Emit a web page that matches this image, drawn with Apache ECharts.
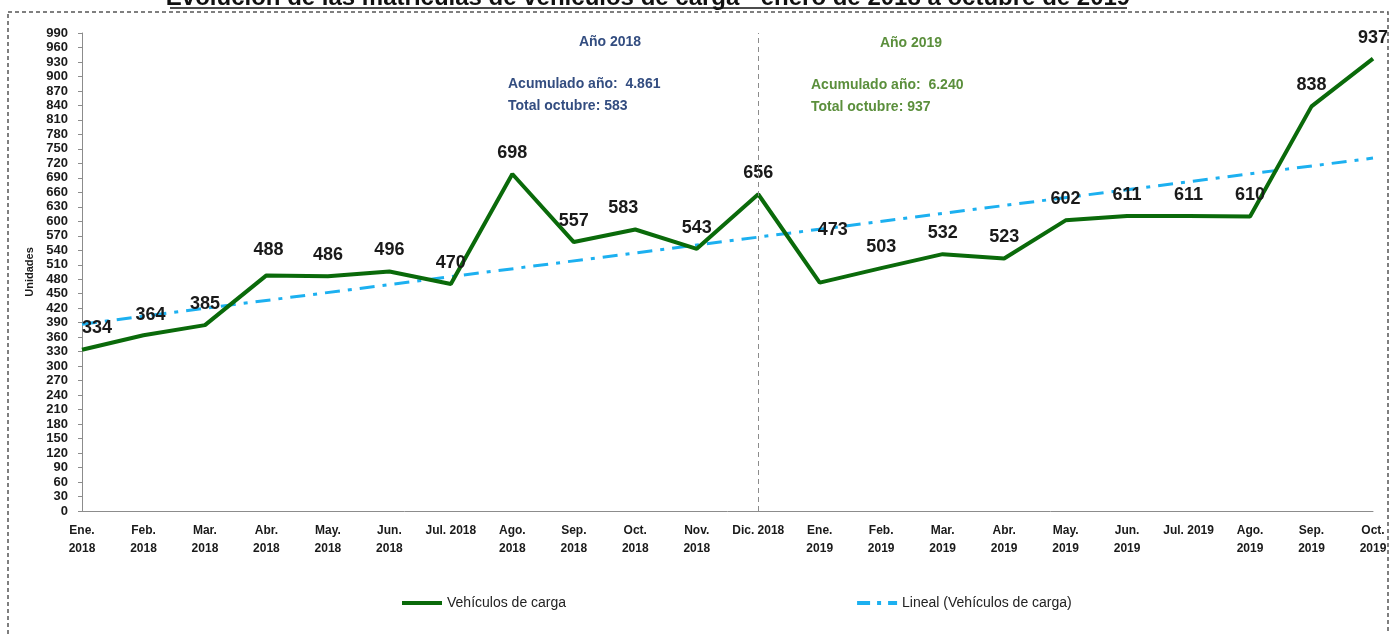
<!DOCTYPE html>
<html>
<head>
<meta charset="utf-8">
<script src="https://cdn.jsdelivr.net/npm/echarts@6/dist/echarts.min.js"></script>
<style>
  html, body { margin: 0; padding: 0; background: #fff; }
  #chart { width: 1390px; height: 634px; }
</style>
</head>
<body>
<div id="chart"></div>
<script>
// meses (etiquetas del eje X)
var categories = [
  'Ene.\n2018', 'Feb.\n2018', 'Mar.\n2018', 'Abr.\n2018', 'May.\n2018', 'Jun.\n2018',
  'Jul. 2018', 'Ago.\n2018', 'Sep.\n2018', 'Oct.\n2018', 'Nov.\n2018', 'Dic. 2018',
  'Ene.\n2019', 'Feb.\n2019', 'Mar.\n2019', 'Abr.\n2019', 'May.\n2019', 'Jun.\n2019',
  'Jul. 2019', 'Ago.\n2019', 'Sep.\n2019', 'Oct.\n2019'
];
// matriculas de vehiculos de carga
var carga = [334, 364, 385, 488, 486, 496, 470, 698, 557, 583, 543, 656,
             473, 503, 532, 523, 602, 611, 611, 610, 838, 937];
// extremos de la linea de tendencia (lineal)
var tendencia = [387, 731];
var yTicks = { min: 0, max: 990, interval: 30 };

var chart = echarts.init(document.getElementById('chart'));

// algunos rotulos estan corridos en el original
var labelShift = { 0: [15, -1], 1: [7, 1], 9: [-12, 0], 12: [13, -32], 3: [2, -4] };

var cargaData = carga.map(function (v, i) {
  var item = { value: v };
  if (labelShift[i]) item.label = { offset: labelShift[i] };
  return item;
});
var trendData = categories.map(function (c, i) {
  if (i === 0) return tendencia[0];
  if (i === categories.length - 1) return tendencia[1];
  return '-';
});

var option = {
  backgroundColor: '#fff',
  animation: false,
  textStyle: { fontFamily: 'Liberation Sans' },
  grid: { left: 82, right: 17, top: 33, bottom: 123, containLabel: false },
  legend: {
    left: 397,
    top: 591,
    itemWidth: 40,
    itemHeight: 4,
    itemGap: 291,
    textStyle: { fontSize: 14, color: '#222', fontFamily: 'Liberation Sans' },
    data: [
      { name: 'Vehículos de carga', icon: 'path://M0,0h40v4h-40z' },
      { name: 'Lineal (Vehículos de carga)', icon: 'path://M0,0h13v4h-13z M20,0h4v4h-4z M31,0h9v4h-9z' }
    ]
  },
  xAxis: {
    type: 'category',
    boundaryGap: false,
    data: categories,
    axisLine: { lineStyle: { color: '#8c8c8c', width: 1 } },
    axisTick: { show: false },
    axisLabel: {
      interval: 0,
      margin: 11,
      fontSize: 12,
      fontWeight: 'bold',
      lineHeight: 18,
      color: '#1a1a1a'
    },
    splitLine: { show: false }
  },
  yAxis: {
    type: 'value',
    min: yTicks.min,
    max: yTicks.max,
    interval: yTicks.interval,
    name: 'Unidades',
    nameLocation: 'middle',
    nameGap: 44,
    nameTextStyle: { fontSize: 11, fontWeight: 'bold', color: '#1a1a1a' },
    axisLine: { show: true, lineStyle: { color: '#8c8c8c', width: 1 } },
    axisTick: { show: true, length: 4, lineStyle: { color: '#8c8c8c' } },
    axisLabel: { fontSize: 13, fontWeight: 'bold', color: '#1a1a1a', margin: 14 },
    splitLine: { show: false }
  },
  series: [
    {
      name: 'Lineal (Vehículos de carga)',
      type: 'line',
      data: trendData,
      connectNulls: true,
      symbol: 'none',
      z: 1,
      lineStyle: { color: '#1cb0f0', width: 3, type: [15, 8, 4, 8] },
      itemStyle: { color: '#1cb0f0' }
    },
    {
      name: 'Vehículos de carga',
      type: 'line',
      data: cargaData,
      symbol: 'circle',
      symbolSize: 0,
      showSymbol: true,
      z: 2,
      lineStyle: { color: '#0a6a0a', width: 4 },
      itemStyle: { color: '#0a6a0a' },
      label: {
        show: true,
        position: 'top',
        distance: 12,
        fontSize: 18,
        fontWeight: 'bold',
        color: '#1a1a1a'
      },
      markLine: {
        silent: true,
        symbol: 'none',
        label: { show: false },
        lineStyle: { color: '#8c8c8c', width: 1, type: [5, 4] },
        data: [{ xAxis: 'Dic. 2018' }]
      }
    }
  ],
  graphic: [
    // marco punteado
    {
      type: 'rect',
      shape: { x: 8, y: 12, width: 1380, height: 660 },
      style: { fill: 'none', stroke: '#555', lineWidth: 1.5, lineDash: [4, 3] },
      silent: true
    },
    // titulo (recortado arriba)
    {
      type: 'text',
      x: 648, y: 10,
      style: {
        text: 'Evolución de las matrículas de vehículos de carga - enero de 2018 a octubre de 2019',
        font: 'bold 24px "Liberation Sans"',
        fill: '#111',
        textAlign: 'center',
        textVerticalAlign: 'bottom'
      }
    },
    {
      type: 'line',
      shape: { x1: 170, y1: 8, x2: 1127, y2: 8 },
      style: { stroke: '#111', lineWidth: 1.5 }
    },
    {
      type: 'text', x: 610, y: 42,
      style: { text: 'Año 2018', font: 'bold 14px "Liberation Sans"', fill: '#334d80', textAlign: 'center', textVerticalAlign: 'middle' }
    },
    {
      type: 'text', x: 508, y: 84,
      style: { text: 'Acumulado año:  4.861', font: 'bold 14px "Liberation Sans"', fill: '#334d80', textVerticalAlign: 'middle' }
    },
    {
      type: 'text', x: 508, y: 106,
      style: { text: 'Total octubre: 583', font: 'bold 14px "Liberation Sans"', fill: '#334d80', textVerticalAlign: 'middle' }
    },
    {
      type: 'text', x: 911, y: 43,
      style: { text: 'Año 2019', font: 'bold 14px "Liberation Sans"', fill: '#5b8f3c', textAlign: 'center', textVerticalAlign: 'middle' }
    },
    {
      type: 'text', x: 811, y: 85,
      style: { text: 'Acumulado año:  6.240', font: 'bold 14px "Liberation Sans"', fill: '#5b8f3c', textVerticalAlign: 'middle' }
    },
    {
      type: 'text', x: 811, y: 107,
      style: { text: 'Total octubre: 937', font: 'bold 14px "Liberation Sans"', fill: '#5b8f3c', textVerticalAlign: 'middle' }
    }
  ]
};

chart.setOption(option);
</script>
</body>
</html>
